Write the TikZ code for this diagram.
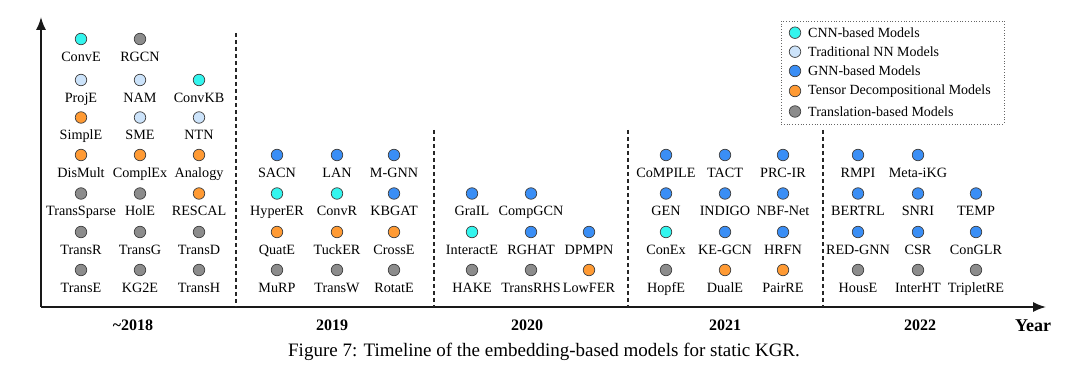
\documentclass[tikz,border=0pt]{standalone}
\usepackage{fontspec}
\setmainfont{Liberation Serif}
\usetikzlibrary{arrows.meta}
\definecolor{cnn}{HTML}{33F5EE}
\definecolor{tnn}{HTML}{CCE3FA}
\definecolor{gnn}{HTML}{3A8EF5}
\definecolor{ten}{HTML}{FF9A33}
\definecolor{tra}{HTML}{8C8C8C}
\newcommand\mdl[5]{%
  \node[dot,fill=#4] (c#1) at (#2,#3) {};
  \node[lbl] (t#1) at (#2,#3+22.5) {#5};}
\begin{document}
\begin{tikzpicture}[x=1pt,y=-1pt,
  dot/.style={circle,draw=black!75,line width=0.7pt,minimum size=11.5pt,inner sep=0pt},
  lbl/.style={anchor=base,font=\fontsize{14.2}{14.2}\selectfont,inner sep=0pt},
  yearlbl/.style={font=\bfseries\fontsize{16}{16}\selectfont,inner sep=0pt},
  axisline/.style={line width=1.6pt,black!90},
  sep/.style={line width=1.4pt,dash pattern=on 4pt off 3pt,black!85},
  legtext/.style={anchor=west,font=\fontsize{14}{14}\selectfont,inner sep=0pt},
  legbox/.style={draw=black!60,dotted,line width=0.8pt,minimum width=223pt,minimum height=103pt,inner sep=0pt}]
\useasboundingbox (0,0) rectangle (1080,374);
% axes
\coordinate (O) at (41,307);
\coordinate (ytop) at (41,17);
\coordinate (xend) at (1046,307);
\draw[axisline,-{Latex[length=13pt,width=10pt]}] (O) -- (ytop);
\draw[axisline,-{Latex[length=13pt,width=10pt]}] (O) -- (xend);
% separators
\coordinate (s1t) at (236,33);  \coordinate (s1b) at (236,307);
\coordinate (s2t) at (434,130); \coordinate (s2b) at (434,307);
\coordinate (s3t) at (628,130); \coordinate (s3b) at (628,307);
\coordinate (s4t) at (823,130); \coordinate (s4b) at (823,307);
\draw[sep] (s1t) -- (s1b);
\draw[sep] (s2t) -- (s2b);
\draw[sep] (s3t) -- (s3b);
\draw[sep] (s4t) -- (s4b);
% ~2018
\mdl{a1}{81}{39}{cnn}{ConvE}
\mdl{a2}{81}{80}{tnn}{ProjE}
\mdl{a3}{81}{117.5}{ten}{SimplE}
\mdl{a4}{81}{155}{ten}{DisMult}
\mdl{a5}{81}{193.5}{tra}{TransSparse}
\mdl{a6}{81}{232}{tra}{TransR}
\mdl{a7}{81}{270}{tra}{TransE}
\mdl{b1}{140}{39}{tra}{RGCN}
\mdl{b2}{140}{80}{tnn}{NAM}
\mdl{b3}{140}{117.5}{tnn}{SME}
\mdl{b4}{140}{155}{ten}{ComplEx}
\mdl{b5}{140}{193.5}{tra}{HolE}
\mdl{b6}{140}{232}{tra}{TransG}
\mdl{b7}{140}{270}{tra}{KG2E}
\mdl{c2}{199}{80}{cnn}{ConvKB}
\mdl{c3}{199}{117.5}{tnn}{NTN}
\mdl{c4}{199}{155}{ten}{Analogy}
\mdl{c5}{199}{193.5}{ten}{RESCAL}
\mdl{c6}{199}{232}{tra}{TransD}
\mdl{c7}{199}{270}{tra}{TransH}
% 2019
\mdl{d4}{277}{155}{gnn}{SACN}
\mdl{d5}{277}{193.5}{cnn}{HyperER}
\mdl{d6}{277}{232}{ten}{QuatE}
\mdl{d7}{277}{270}{tra}{MuRP}
\mdl{e4}{337}{155}{gnn}{LAN}
\mdl{e5}{337}{193.5}{cnn}{ConvR}
\mdl{e6}{337}{232}{ten}{TuckER}
\mdl{e7}{337}{270}{tra}{TransW}
\mdl{f4}{394}{155}{gnn}{M-GNN}
\mdl{f5}{394}{193.5}{gnn}{KBGAT}
\mdl{f6}{394}{232}{ten}{CrossE}
\mdl{f7}{394}{270}{tra}{RotatE}
% 2020
\mdl{g5}{472}{193.5}{gnn}{GraIL}
\mdl{g6}{472}{232}{cnn}{InteractE}
\mdl{g7}{472}{270}{tra}{HAKE}
\mdl{h5}{531}{193.5}{gnn}{CompGCN}
\mdl{h6}{531}{232}{gnn}{RGHAT}
\mdl{h7}{531}{270}{tra}{TransRHS}
\mdl{i6}{589}{232}{gnn}{DPMPN}
\mdl{i7}{589}{270}{ten}{LowFER}
% 2021
\mdl{j4}{666}{155}{gnn}{CoMPILE}
\mdl{j5}{666}{193.5}{gnn}{GEN}
\mdl{j6}{666}{232}{cnn}{ConEx}
\mdl{j7}{666}{270}{tra}{HopfE}
\mdl{k4}{725}{155}{gnn}{TACT}
\mdl{k5}{725}{193.5}{gnn}{INDIGO}
\mdl{k6}{725}{232}{gnn}{KE-GCN}
\mdl{k7}{725}{270}{ten}{DualE}
\mdl{l4}{783}{155}{gnn}{PRC-IR}
\mdl{l5}{783}{193.5}{gnn}{NBF-Net}
\mdl{l6}{783}{232}{gnn}{HRFN}
\mdl{l7}{783}{270}{ten}{PairRE}
% 2022
\mdl{m4}{858}{155}{gnn}{RMPI}
\mdl{m5}{858}{193.5}{gnn}{BERTRL}
\mdl{m6}{858}{232}{gnn}{RED-GNN}
\mdl{m7}{858}{270}{tra}{HousE}
\mdl{n4}{918}{155}{gnn}{Meta-iKG}
\mdl{n5}{918}{193.5}{gnn}{SNRI}
\mdl{n6}{918}{232}{gnn}{CSR}
\mdl{n7}{918}{270}{tra}{InterHT}
\mdl{o5}{976}{193.5}{gnn}{TEMP}
\mdl{o6}{976}{232}{gnn}{ConGLR}
\mdl{o7}{976}{270}{tra}{TripletRE}
% year labels
\node[yearlbl] (y18) at (133,325) {\textasciitilde2018};
\node[yearlbl] (y19) at (332,325) {2019};
\node[yearlbl] (y20) at (527,325) {2020};
\node[yearlbl] (y21) at (725,325) {2021};
\node[yearlbl] (y22) at (920,325) {2022};
\node[font=\bfseries\fontsize{18}{18}\selectfont,inner sep=0pt] (yr) at (1033,326) {Year};
% legend
\node[legbox] (legend) at (892.5,72.5) {};
\node[dot,fill=cnn] (lc1) at (795,32.7) {};
\node[legtext] (lt1) at (808,32.7) {CNN-based Models};
\node[dot,fill=tnn] (lc2) at (795,51.7) {};
\node[legtext] (lt2) at (808,51.7) {Traditional NN Models};
\node[dot,fill=gnn] (lc3) at (795,71) {};
\node[legtext] (lt3) at (808,71) {GNN-based Models};
\node[dot,fill=ten] (lc4) at (795,91) {};
\node[legtext] (lt4) at (808,91) {Tensor Decompositional Models};
\node[dot,fill=tra] (lc5) at (795,111.5) {};
\node[legtext] (lt5) at (808,111.5) {Translation-based Models};
% caption
\node[font=\fontsize{19}{19}\selectfont,inner sep=0pt] (cap) at (544,352) {Figure 7: Timeline of the embedding-based models for static KGR.};
\end{tikzpicture}
\end{document}
